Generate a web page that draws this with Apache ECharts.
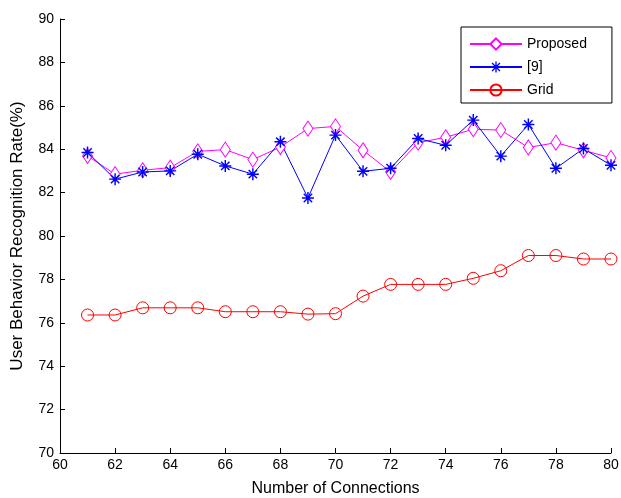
<!DOCTYPE html>
<html>
<head>
<meta charset="utf-8">
<script src="https://cdn.jsdelivr.net/npm/echarts@6/dist/echarts.min.js"></script>
<style>html,body{margin:0;padding:0;background:#fff;}#c{width:621px;height:498px;}</style>
</head>
<body>
<div id="c"></div>
<script>
var connections = [61,62,63,64,65,66,67,68,69,70,71,72,73,74,75,76,77,78,79,80];
var proposed = [83.69,82.85,83.03,83.15,83.9,83.98,83.52,84.1,84.95,85.05,83.95,82.95,84.3,84.55,84.92,84.88,84.08,84.3,83.95,83.6];
var ref9 = [83.85,82.62,82.95,83.0,83.77,83.23,82.85,84.34,81.75,84.65,82.98,83.12,84.49,84.18,85.34,83.68,85.14,83.12,84.03,83.26];
var grid = [76.36,76.36,76.69,76.69,76.69,76.51,76.51,76.51,76.4,76.42,77.23,77.77,77.77,77.77,78.05,78.4,79.1,79.1,78.94,78.94];
var xTicks = [60,62,64,66,68,70,72,74,76,78,80];
var yTicks = [70,72,74,76,78,80,82,84,86,88,90];
var seriesNames = ['Proposed','[9]','Grid'];

function pairs(ys){ return connections.map(function(x,i){ return [x, ys[i]]; }); }

var star = 'path://M-5,-0.6L5,-0.6L5,0.6L-5,0.6Z M-0.6,-5L0.6,-5L0.6,5L-0.6,5Z M-3.08,-3.92L3.92,3.08L3.08,3.92L-3.92,-3.08Z M3.08,-3.92L3.92,-3.08L-3.08,3.92L-3.92,3.08Z';
var font = 'Liberation Sans, Arial, sans-serif';

var chart = echarts.init(document.getElementById('c'));
chart.setOption({
  animation: false,
  backgroundColor: '#fff',
  grid: {left: 60, right: 10, top: 19, bottom: 45, containLabel: false, outerBoundsMode: 'none'},
  legend: {
    orient: 'vertical', left: 461, top: 27,
    padding: [10, 25, 6, 8], itemGap: 9, itemWidth: 52, itemHeight: 14,
    borderColor: '#000', borderWidth: 1, backgroundColor: '#fff',
    textStyle: {fontFamily: font, fontSize: 14, color: '#000'},
    data: seriesNames
  },
  xAxis: {
    type: 'value', min: 60, max: 80, interval: 2,
    name: 'Number of Connections', nameLocation: 'middle', nameGap: 28,
    nameTextStyle: {fontFamily: font, fontSize: 16, color: '#000'},
    axisLine: {lineStyle: {color: '#000', width: 1}},
    axisTick: {inside: true, length: 5, lineStyle: {color: '#000'}},
    axisLabel: {fontFamily: font, fontSize: 14, color: '#000', margin: 5,
      formatter: function(v){ return xTicks.indexOf(v) >= 0 ? String(v) : ''; }},
    splitLine: {show: false}
  },
  yAxis: {
    type: 'value', min: 70, max: 90, interval: 2,
    name: 'User Behavior Recognition Rate(%)', nameLocation: 'middle', nameGap: 34,
    nameTextStyle: {fontFamily: font, fontSize: 17, color: '#000'},
    axisLine: {show: true, lineStyle: {color: '#000', width: 1}},
    axisTick: {show: true, inside: true, length: 5, lineStyle: {color: '#000'}},
    axisLabel: {fontFamily: font, fontSize: 14, color: '#000', margin: 6,
      formatter: function(v){ return yTicks.indexOf(v) >= 0 ? String(v) : ''; }},
    splitLine: {show: false}
  },
  series: [
    {name: seriesNames[0], type: 'line', data: pairs(proposed),
     symbol: 'diamond', symbolSize: [10, 15], showAllSymbol: true,
     lineStyle: {color: '#ff00ff', width: 1},
     itemStyle: {color: '#fff', borderColor: '#ff00ff', borderWidth: 1}},
    {name: seriesNames[1], type: 'line', data: pairs(ref9),
     symbol: star, symbolSize: 12, showAllSymbol: true,
     lineStyle: {color: '#0000ff', width: 1},
     itemStyle: {color: '#0000ff', borderWidth: 0}},
    {name: seriesNames[2], type: 'line', data: pairs(grid),
     symbol: 'circle', symbolSize: 12, showAllSymbol: true,
     lineStyle: {color: '#ff0000', width: 1},
     itemStyle: {color: 'rgba(255,255,255,0)', borderColor: '#ff0000', borderWidth: 1}}
  ]
});
</script>
</body>
</html>
